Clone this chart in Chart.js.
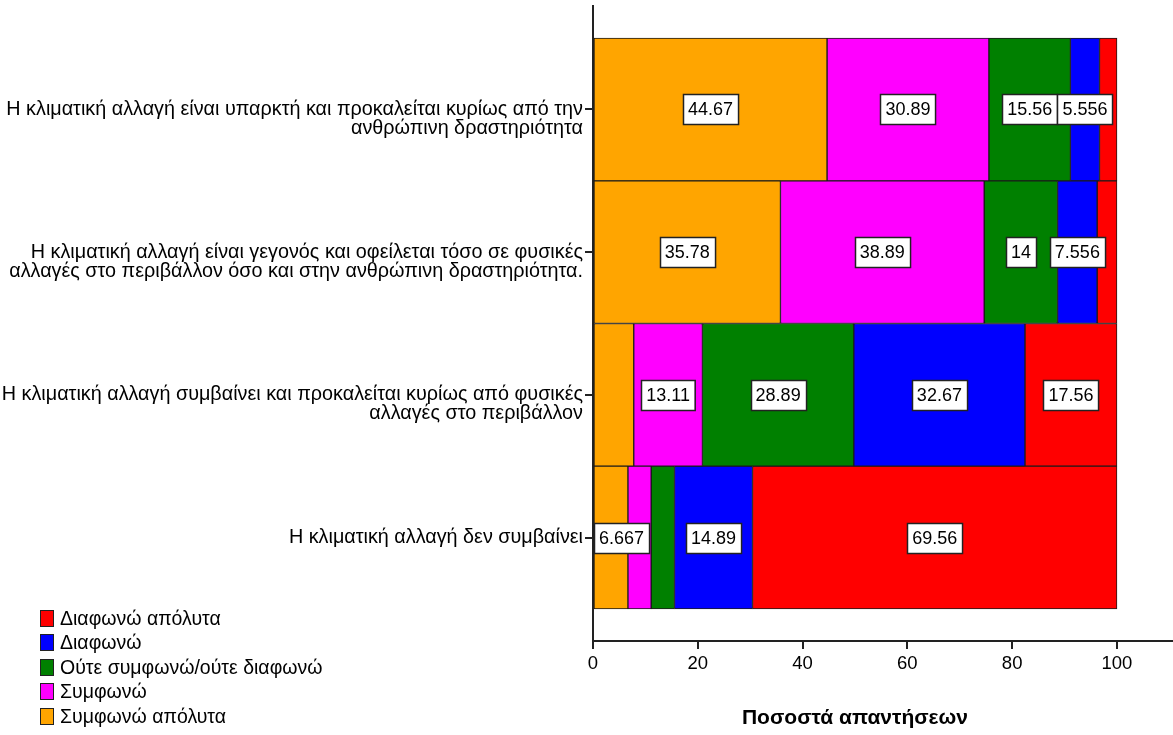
<!DOCTYPE html>
<html lang="el">
<head>
  <meta charset="UTF-8" />
  <title>Κλιματική αλλαγή</title>
  <script src="https://cdn.jsdelivr.net/npm/chart.js"></script>
  <style>
    html, body { margin: 0; padding: 0; background: #fff; }
    #wrap { position: relative; width: 1173px; height: 735px; }
    #legend { position: absolute; left: 40px; top: 606px; font: 19.5px "Liberation Sans", Arial, sans-serif; color: #000; }
    #legend div { height: 24.5px; display: flex; align-items: center; }
    #legend span.sw { width: 14px; height: 17px; border: 1px solid #222; margin-right: 6px; box-sizing: border-box; }
  </style>
</head>
<body>
<div id="wrap">
  <canvas id="chart" width="1173" height="735"></canvas>
  <div id="legend"></div>
</div>
<script>
const categories = [
  ['Η κλιματική αλλαγή είναι υπαρκτή και προκαλείται κυρίως από την', 'ανθρώπινη δραστηριότητα'],
  ['Η κλιματική αλλαγή είναι γεγονός και οφείλεται τόσο σε φυσικές', 'αλλαγές στο περιβάλλον όσο και στην ανθρώπινη δραστηριότητα.'],
  ['Η κλιματική αλλαγή συμβαίνει και προκαλείται κυρίως από φυσικές', 'αλλαγές στο περιβάλλον'],
  ['Η κλιματική αλλαγή δεν συμβαίνει']
];

// series in stacking order (left to right)
const seriesNames = ['Συμφωνώ απόλυτα', 'Συμφωνώ', 'Ούτε συμφωνώ/ούτε διαφωνώ', 'Διαφωνώ', 'Διαφωνώ απόλυτα'];
const seriesColors = ['#FFA500', '#FF00FF', '#008000', '#0000FF', '#FF0000'];

const stronglyAgree = [44.67, 35.78, 7.778, 6.667];
const agree         = [30.89, 38.89, 13.11, 4.444];
const neutral       = [15.56, 14, 28.89, 4.444];
const disagree      = [5.556, 7.556, 32.67, 14.89];
const stronglyDis   = [3.333, 3.778, 17.56, 69.56];
const seriesValues = [stronglyAgree, agree, neutral, disagree, stronglyDis];

const xTicks = [0, 20, 40, 60, 80, 100];
// value labels SPSS left out because they would collide
const labelMin = 5;
const hiddenLabels = [[0, 2]];

const FONT = '"Liberation Sans", Arial, sans-serif';

const datasets = seriesValues.map((vals, s) => ({
  label: seriesNames[s],
  data: vals.map((v, i) => ({ x: v, y: i })),
  backgroundColor: seriesColors[s],
  borderColor: '#1a1a1a',
  borderWidth: 1,
  borderSkipped: false,
  categoryPercentage: 1,
  barPercentage: 1
}));

// white boxed value labels
const valueLabels = {
  id: 'valueLabels',
  afterDatasetsDraw(chart) {
    const ctx = chart.ctx;
    const area = chart.chartArea;
    ctx.save();
    ctx.font = '18px ' + FONT;
    ctx.textAlign = 'center';
    ctx.textBaseline = 'middle';
    chart.data.datasets.forEach((ds, s) => {
      chart.getDatasetMeta(s).data.forEach((bar, i) => {
        const v = seriesValues[s][i];
        if (v < labelMin) return;
        if (hiddenLabels.some(h => h[0] === s && h[1] === i)) return;
        const txt = String(v);
        const w = ctx.measureText(txt).width + 10;
        const h = 30;
        let cx = (bar.x + bar.base) / 2;
        if (cx - w / 2 < area.left + 1) cx = area.left + 1 + w / 2;
        const x0 = Math.round(cx - w / 2), y0 = Math.round(bar.y - h / 2);
        ctx.fillStyle = '#fff';
        ctx.fillRect(x0, y0, w, h);
        ctx.strokeStyle = '#222';
        ctx.lineWidth = 1.5;
        ctx.strokeRect(x0 + 0.5, y0 + 0.5, w, h);
        ctx.fillStyle = '#000';
        ctx.fillText(txt, cx, bar.y + 1);
      });
    });
    ctx.restore();
  }
};

// x axis title, centred on the 0-100 range
const xTitle = {
  id: 'xTitle',
  afterDraw(chart) {
    const ctx = chart.ctx;
    const sx = chart.scales.x;
    ctx.save();
    ctx.font = 'bold 21px ' + FONT;
    ctx.fillStyle = '#000';
    ctx.textAlign = 'center';
    ctx.textBaseline = 'middle';
    ctx.fillText('Ποσοστά απαντήσεων', sx.getPixelForValue(50), 718);
    ctx.restore();
  }
};

new Chart(document.getElementById('chart'), {
  type: 'bar',
  data: { datasets },
  options: {
    indexAxis: 'y',
    responsive: false,
    animation: false,
    layout: { padding: { top: 6, right: 0, left: 0, bottom: 0 } },
    plugins: {
      legend: { display: false },
      tooltip: { enabled: false }
    },
    scales: {
      x: {
        type: 'linear',
        stacked: true,
        min: 0,
        max: 110.7,
        afterBuildTicks: sc => { sc.ticks = xTicks.map(v => ({ value: v })); },
        afterFit: sc => { sc.height = 94; },
        ticks: { color: '#000', font: { size: 18.5, family: FONT }, padding: 4, maxRotation: 0 },
        grid: { drawOnChartArea: false, drawTicks: true, tickLength: 8, color: '#222', lineWidth: 2 },
        border: { display: true, color: '#222', width: 2 }
      },
      y: {
        type: 'linear',
        stacked: true,
        reverse: true,
        offset: false,
        min: -0.725,
        max: 3.725,
        afterBuildTicks: sc => { sc.ticks = categories.map((c, i) => ({ value: i })); },
        afterFit: sc => { sc.width = 593; sc.paddingTop = 0; sc.paddingBottom = 0; },
        ticks: {
          color: '#000',
          font: { size: 19.8, family: FONT, lineHeight: '19px' },
          padding: 2,
          callback: v => {
            const c = categories[v];
            return c.length > 1 ? [''].concat(c) : c;
          }
        },
        grid: { offset: false, drawOnChartArea: false, drawTicks: true, tickLength: 8, color: '#222', lineWidth: 2 },
        border: { display: true, color: '#222', width: 2 }
      }
    }
  },
  plugins: [valueLabels, xTitle]
});

// legend, reversed like the original
const legend = document.getElementById('legend');
seriesNames.slice().reverse().forEach((name, k) => {
  const s = seriesNames.length - 1 - k;
  const row = document.createElement('div');
  row.innerHTML = '<span class="sw" style="background:' + seriesColors[s] + '"></span>' + name;
  legend.appendChild(row);
});
</script>
</body>
</html>
